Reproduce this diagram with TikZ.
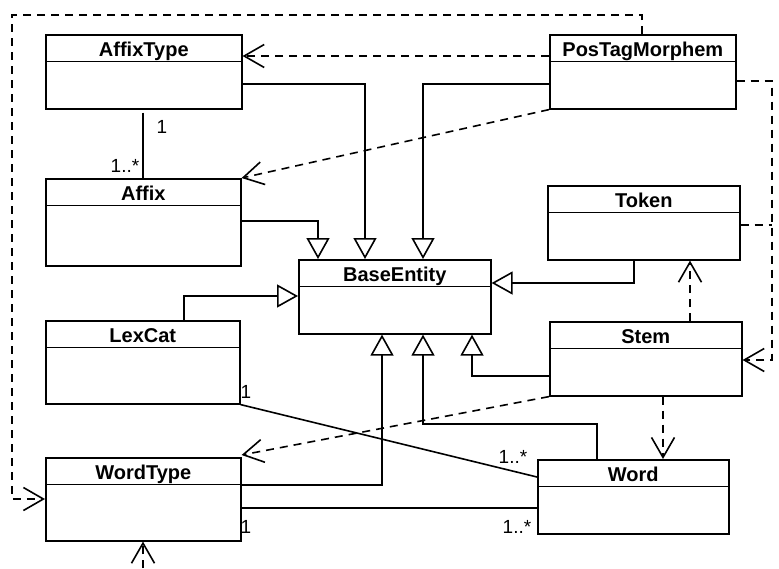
\documentclass[tikz,border=0pt]{standalone}
\usepackage{fontspec}
\setmainfont{Liberation Sans}
\usetikzlibrary{arrows.meta}
\tikzset{
  clsbox/.style={draw, rectangle, inner sep=0pt, anchor=north west},
  clstitle/.style={anchor=base, inner sep=0pt, font=\fontsize{20}{22}\selectfont\bfseries},
  mult/.style={anchor=base, inner sep=0pt, font=\fontsize{19}{21}\selectfont},
  gen/.style={-{Triangle[open,length=21pt,width=23pt]}},
  dep/.style={dash pattern=on 8pt off 6pt, -{Straight Barb[length=20pt,width=23pt]}},
  depline/.style={dash pattern=on 8pt off 6pt},
  assoc/.style={-},
}
\newcommand\umlcls[6]{%
  \node[clsbox, minimum width=#4pt, minimum height=#5pt] (#1) at (#2,#3) {};
  \draw ([yshift=-27.5pt]#1.north west) -- ([yshift=-27.5pt]#1.north east);
  \node[clstitle] at ([yshift=-22pt]#1.north) {#6};
}
\begin{document}
\begin{tikzpicture}[x=1pt, y=-1pt, line width=1.6pt, line join=miter]
\path[fill=white, use as bounding box] (0,0) rectangle (779,568);

\umlcls{AffixType}{45}{34}{196}{74}{AffixType}
\umlcls{Affix}{45}{178}{195}{87}{Affix}
\umlcls{PosTagMorphem}{549}{34}{186}{74}{PosTagMorphem}
\umlcls{Token}{547}{185}{192}{74}{Token}
\umlcls{BaseEntity}{298}{259}{192}{74}{BaseEntity}
\umlcls{LexCat}{45}{320}{194}{83}{LexCat}
\umlcls{Stem}{549}{321}{192}{74}{Stem}
\umlcls{WordType}{45}{457}{195}{83}{WordType}
\umlcls{Word}{537}{459}{191}{74}{Word}

\coordinate (loopTL) at (12,15);
\coordinate (rbus) at (772,225);
\coordinate (wtb) at (143,568);

% generalizations
\draw[gen] ([yshift=-50pt]AffixType.north east) -| ([xshift=67pt]BaseEntity.north west);
\draw[gen] ([yshift=-43pt]Affix.north east) -| ([xshift=20pt]BaseEntity.north west);
\draw[gen] ([yshift=-50pt]PosTagMorphem.north west) -| ([xshift=125pt]BaseEntity.north west);
\draw[gen] ([xshift=87pt]Token.south west) |- ([yshift=-24pt]BaseEntity.north east);
\draw[gen] ([xshift=139pt]LexCat.north west) |- ([yshift=-37pt]BaseEntity.north west);
\draw[gen] ([yshift=-55pt]Stem.north west) -| ([xshift=174pt]BaseEntity.south west);
\draw[gen] ([xshift=60pt]Word.north west) -- ++(0,-35) -| ([xshift=125pt]BaseEntity.south west);
\draw[gen] ([yshift=-28pt]WordType.north east) -| ([xshift=84pt]BaseEntity.south west);

% dependencies
\draw[dep] ([yshift=-22pt]PosTagMorphem.north west) -- ([yshift=-22pt]AffixType.north east);
\draw[dep] (PosTagMorphem.south west) -- (Affix.north east);
\draw[dep] ([xshift=93pt]PosTagMorphem.north west) |- (loopTL) |- ([yshift=-42pt]WordType.north west);
\draw[dep] ([yshift=-47pt]PosTagMorphem.north east) -| (rbus) |- ([yshift=-39pt]Stem.north east);
\draw[depline] ([yshift=-40pt]Token.north east) -- (rbus);
\draw[dep] ([xshift=141pt]Stem.north west) -- ([xshift=143pt]Token.south west);
\draw[dep] (Stem.south west) -- ([yshift=2pt]WordType.north east);
\draw[dep] ([xshift=114pt]Stem.south west) -- ([xshift=126pt]Word.north west);
\draw[dep] (wtb) -- ([xshift=98pt]WordType.south west);

% associations
\draw[assoc] ([xshift=98pt,yshift=-3pt]AffixType.south west) -- ([xshift=98pt]Affix.north west);
\draw[assoc] (LexCat.south east) -- ([yshift=-18pt]Word.north west);
\draw[assoc] ([yshift=-51pt]WordType.north east) -- ([yshift=-49pt]Word.north west);

% multiplicities
\node[mult] (m1) at (162,133) {1};
\node[mult] (m2) at (125,172) {1..*};
\node[mult] (m3) at (246,398) {1};
\node[mult] (m4) at (513,463) {1..*};
\node[mult] (m5) at (246,533) {1};
\node[mult] (m6) at (517,533) {1..*};
\end{tikzpicture}
\end{document}
